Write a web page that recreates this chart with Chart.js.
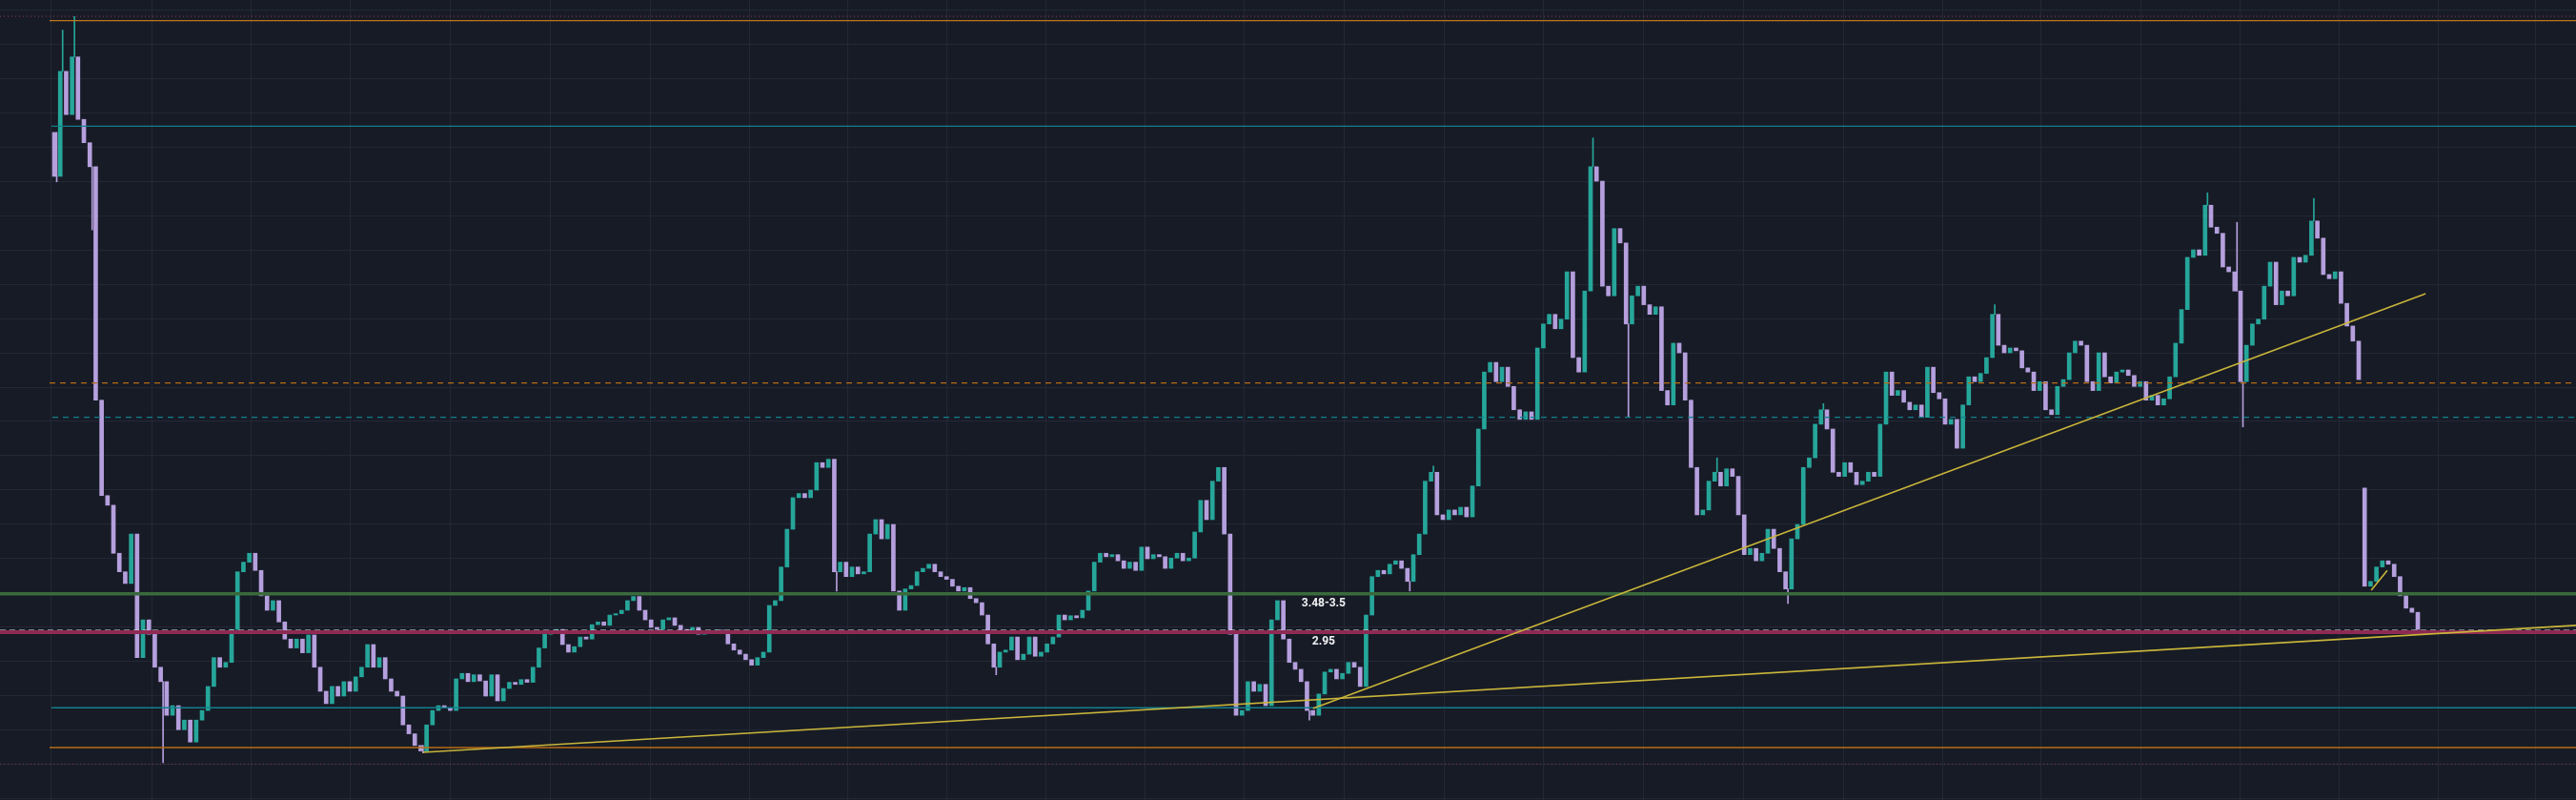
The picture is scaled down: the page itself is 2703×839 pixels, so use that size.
<!DOCTYPE html>
<html>
<head>
<meta charset="utf-8">
<script src="https://cdn.jsdelivr.net/npm/chart.js@4"></script>
<style>
  html, body { margin: 0; padding: 0; background: #171b26; }
  #wrap { width: 2703px; height: 839px; }
</style>
</head>
<body>
<div id="wrap"><canvas id="chart-price" width="2703" height="839"></canvas></div>
<script>
// ------------------------------------------------------------
// price history (one close per bar)
// ------------------------------------------------------------
const firstOpen = 10.21;
const closes = [
  9.57, 11.10, 10.47, 11.31, 10.40, 10.06, 9.71, 6.31, 4.92, 4.78,
  4.08, 3.81, 3.64, 4.36, 2.56, 3.11, 2.90, 2.42, 2.21, 1.72,
  1.86, 1.51, 1.65, 1.33, 1.65, 1.79, 2.14, 2.56, 2.42, 2.49,
  2.97, 3.81, 3.95, 4.08, 3.83, 3.46, 3.25, 3.39, 3.08, 2.83,
  2.70, 2.83, 2.63, 2.89, 2.42, 2.07, 1.89, 2.14, 2.00, 2.21,
  2.07, 2.28, 2.42, 2.75, 2.42, 2.56, 2.25, 2.07, 2.00, 1.58,
  1.45, 1.28, 1.20, 1.58, 1.79, 1.86, 1.83, 1.79, 2.25, 2.33,
  2.21, 2.31, 2.22, 2.00, 2.31, 1.93, 2.11, 2.20, 2.17, 2.24,
  2.20, 2.42, 2.70, 2.90, 2.92, 2.97, 2.75, 2.64, 2.72, 2.86,
  2.83, 3.04, 3.08, 3.03, 3.18, 3.20, 3.25, 3.39, 3.45, 3.25,
  3.11, 3.00, 2.97, 3.11, 3.14, 3.03, 2.97, 2.95, 3.00, 2.90,
  2.95, 2.92, 2.96, 2.93, 2.76, 2.67, 2.61, 2.53, 2.45, 2.56,
  2.64, 3.32, 3.39, 3.88, 4.43, 4.89, 4.95, 4.89, 5.00, 5.40,
  5.33, 5.45, 3.81, 3.95, 3.74, 3.88, 3.78, 3.81, 4.36, 4.57,
  4.29, 4.50, 3.53, 3.25, 3.56, 3.61, 3.81, 3.86, 3.92, 3.81,
  3.74, 3.70, 3.60, 3.53, 3.58, 3.42, 3.36, 3.18, 2.76, 2.42,
  2.64, 2.67, 2.86, 2.53, 2.61, 2.86, 2.58, 2.64, 2.76, 2.86,
  3.18, 3.11, 3.17, 3.14, 3.25, 3.53, 3.95, 4.08, 4.03, 4.06,
  3.97, 3.86, 3.95, 3.83, 4.17, 4.00, 4.06, 4.03, 3.86, 4.01,
  4.08, 3.97, 4.01, 4.39, 4.85, 4.57, 5.13, 5.33, 4.36, 2.90,
  1.72, 1.79, 2.21, 2.07, 2.17, 1.86, 3.11, 3.39, 2.83, 2.49,
  2.39, 2.21, 1.79, 1.72, 2.03, 2.35, 2.39, 2.25, 2.33, 2.49,
  2.42, 2.14, 3.18, 3.74, 3.83, 3.78, 3.92, 3.97, 3.86, 3.67,
  4.06, 4.36, 5.13, 5.26, 4.64, 4.57, 4.71, 4.64, 4.75, 4.61,
  5.06, 5.89, 6.72, 6.86, 6.58, 6.79, 6.51, 6.17, 6.03, 6.14,
  6.03, 7.07, 7.42, 7.56, 7.35, 7.49, 8.18, 6.93, 6.72, 7.90,
  9.71, 9.50, 7.97, 7.83, 8.81, 8.60, 7.42, 7.83, 7.97, 7.70,
  7.56, 7.67, 6.45, 6.24, 7.14, 7.00, 6.31, 5.33, 4.64, 4.71,
  5.13, 5.26, 5.06, 5.31, 5.20, 4.64, 4.06, 4.15, 3.97, 4.08,
  4.43, 4.15, 3.81, 3.56, 4.29, 4.50, 5.33, 5.47, 5.96, 6.17,
  5.89, 5.26, 5.20, 5.40, 5.26, 5.08, 5.13, 5.26, 5.20, 5.96,
  6.72, 6.38, 6.45, 6.28, 6.17, 6.24, 6.06, 6.79, 6.42, 6.33,
  5.96, 6.03, 5.61, 6.24, 6.65, 6.58, 6.70, 6.93, 7.56, 7.11,
  7.00, 7.07, 7.03, 6.78, 6.72, 6.45, 6.58, 6.17, 6.10, 6.51,
  6.61, 7.00, 7.17, 7.11, 6.58, 6.45, 7.00, 6.65, 6.56, 6.72,
  6.75, 6.67, 6.51, 6.58, 6.31, 6.38, 6.24, 6.33, 6.65, 7.14,
  7.63, 8.39, 8.50, 8.42, 9.15, 8.83, 8.74, 8.25, 8.18, 7.90,
  6.58, 7.11, 7.42, 7.49, 7.97, 8.32, 7.70, 7.90, 7.83, 8.39,
  8.32, 8.42, 8.92, 8.67, 8.14, 8.08, 8.18, 7.72, 7.39, 7.17,
  6.61, 3.60, 3.67, 3.88, 3.97, 3.92, 3.74, 3.46, 3.28, 3.22,
  2.97
];

// bars that opened on a price gap: bar index and its open
const gapIdx   = [391];
const gapOpens = [5.03];

// long wicks worth drawing: bar index, low, high
const wickIdx  = [0,    1,     3,     6,    18,   62,   132,  159,  212,  229,  233,  260,   266,  281,  293,  299,  328,  364,  369,  370,  382];
const wickLow  = [9.49, 11.10, 11.31, 8.79, 1.03, 1.17, 3.53, 2.31, 1.65, 3.53, 5.26, 9.71,  6.07, 5.26, 3.35, 6.17, 7.56, 9.15, 7.90, 5.92, 8.92];
const wickHigh = [10.21,11.70, 11.90, 9.71, 2.21, 1.28, 3.81, 2.42, 1.79, 3.67, 5.35, 10.13, 7.42, 5.47, 3.56, 6.26, 7.70, 9.33, 8.90, 6.58, 9.25];

// horizontal levels (price) and the bar index where each one starts
const levelPrices = [11.90, 11.84, 10.30, 6.56, 6.06, 3.49, 2.93, 2.955, 1.83, 1.25, 1.01];
const levelStarts = [-9.52, -1.13, -0.81, -1.13, -0.65, -9.52, -9.52, -9.52, -0.81, -1.13, -9.52];

// trend lines: [startIdx, startPrice, endIdx, endPrice]
const trendLines = [
  [62.1, 1.18, 426.45, 3.03],
  [212.7, 1.82, 401.0, 7.86],
  [391.8, 3.54, 394.5, 3.83]
];

// zone notes
const noteTexts  = ["3.48-3.5", "2.95"];
const noteIdx    = [214.5, 214.5];
const notePrices = [3.35, 2.79];

// time grid (bar index of each vertical grid line)
const timeGrid = [7.69, 24.73, 41.18, 58.27, 75.05, 92.15, 108.92, 125.76, 142.26, 159.31,
                  175.69, 192.79, 209.40, 226.50, 243.18, 260.21, 276.98, 294.15, 310.76,
                  327.69, 344.24, 361.34, 377.85, 394.89, 411.34];

const X_MIN = -9.52, X_MAX = 426.45;
const Y_MIN = 0.486, Y_MAX = 12.139;

const UP = "#26a69a";
const DOWN = "#b59fdd";
const GRID = "#242835";

// ─── build datasets ──────────────────────────────────────────
const openOf = (i) => {
  const g = gapIdx.indexOf(i);
  if (g >= 0) return gapOpens[g];
  return i ? closes[i-1] : firstOpen;
};
const bodies = closes.map((c, i) => ({ x: i, y: [openOf(i), c] }));
const bodyColors = closes.map((c, i) => c >= (i ? closes[i-1] : firstOpen) ? UP : DOWN);

const wicks = wickIdx.map((ix, k) => ({ x: ix, y: [wickLow[k], wickHigh[k]] }));
const wickColors = wickIdx.map(ix => bodyColors[ix]);

const levelStyles = [
  { color: "#7d3450", width: 1.2, dash: [1, 3] },
  { color: "#c0761c", width: 1.3, dash: [] },
  { color: "#137f8c", width: 1.3, dash: [] },
  { color: "#b86c14", width: 1.3, dash: [6, 5] },
  { color: "#137f8c", width: 1.3, dash: [6, 5] },
  { color: "#3a6a3c", width: 3.5, dash: [] },
  { color: "#8e2a53", width: 4, dash: [] },
  { color: "#e6e6ea", width: 1.5, dash: [6, 4] },
  { color: "#137f8c", width: 1.3, dash: [] },
  { color: "#b86c14", width: 1.5, dash: [] },
  { color: "#7d3450", width: 1.2, dash: [1, 3] }
];

const levelSets = levelPrices.map((p, k) => ({
  type: "line",
  data: [{ x: levelStarts[k], y: p }, { x: X_MAX, y: p }],
  borderColor: levelStyles[k].color,
  borderWidth: levelStyles[k].width,
  borderDash: levelStyles[k].dash,
  pointRadius: 0,
  fill: false,
  order: -1
}));

const trendSets = trendLines.map(t => ({
  type: "line",
  data: [{ x: t[0], y: t[1] }, { x: t[2], y: t[3] }],
  borderColor: "#c9b53a",
  borderWidth: 1.6,
  pointRadius: 0,
  fill: false,
  order: -2
}));

// zone notes drawn through the scales
const notesPlugin = {
  id: "notes",
  afterDatasetsDraw(chart) {
    const { ctx, scales: { x, y } } = chart;
    ctx.save();
    ctx.fillStyle = "#f2f2f4";
    ctx.font = "bold 12px Roboto, 'DejaVu Sans', sans-serif";
    ctx.textAlign = "center";
    ctx.textBaseline = "middle";
    noteTexts.forEach((t, k) => ctx.fillText(t, x.getPixelForValue(noteIdx[k]), y.getPixelForValue(notePrices[k])));
    ctx.restore();
  }
};

const bgPlugin = {
  id: "bg",
  beforeDraw(chart) {
    const { ctx, width, height } = chart;
    ctx.save();
    ctx.fillStyle = "#171b26";
    ctx.fillRect(0, 0, width, height);
    ctx.restore();
  }
};

new Chart(document.getElementById("chart-price"), {
  type: "bar",
  data: {
    datasets: [
      ...trendSets,
      ...levelSets,
      { type: "bar", data: bodies, backgroundColor: bodyColors, barThickness: 4, minBarLength: 1, order: 1 },
      { type: "bar", data: wicks, backgroundColor: wickColors, barThickness: 1, order: 2 }
    ]
  },
  options: {
    responsive: false,
    animation: false,
    devicePixelRatio: 1,
    layout: { padding: 0 },
    plugins: { legend: { display: false }, tooltip: { enabled: false } },
    scales: {
      x: {
        type: "linear", min: X_MIN, max: X_MAX, offset: false,
        afterBuildTicks: (s) => { s.ticks = timeGrid.map(v => ({ value: v })); },
        grid: { color: GRID, drawTicks: false },
        border: { display: false },
        ticks: { display: false }
      },
      y: {
        type: "linear", min: Y_MIN, max: Y_MAX,
        afterBuildTicks: (s) => {
          const t = [];
          for (let v = 0.5; v <= 12; v += 0.5) t.push({ value: v });
          s.ticks = t;
        },
        grid: { color: GRID, drawTicks: false },
        border: { display: false },
        ticks: { display: false }
      }
    }
  },
  plugins: [bgPlugin, notesPlugin]
});
</script>
</body>
</html>
